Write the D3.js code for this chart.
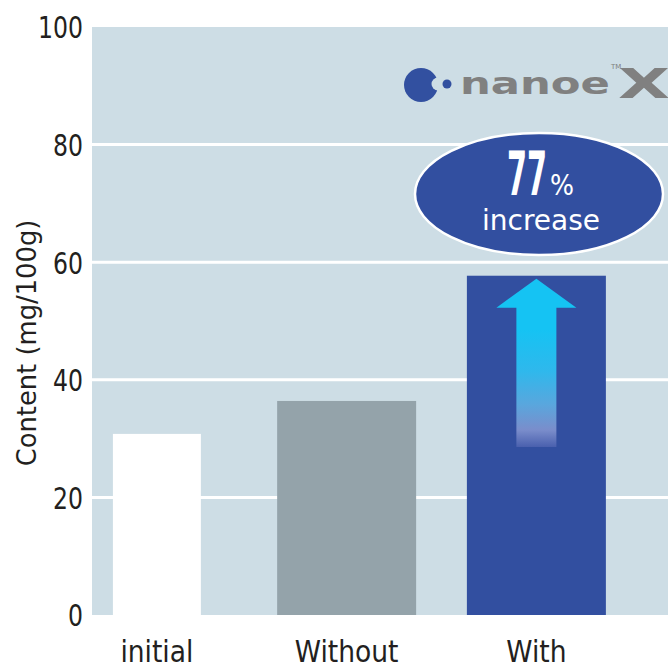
<!DOCTYPE html>
<html><head><meta charset="utf-8">
<script src="https://cdn.jsdelivr.net/npm/d3@7"></script>
<style>html,body{margin:0;padding:0;background:#fff;}svg{display:block;}</style>
</head><body>
<script>
const categories = ["initial", "Without", "With"];
const values = [30.8, 36.4, 57.7];
const yTicks = [0, 20, 40, 60, 80, 100];
const yLabel = "Content (mg/100g)";
const badgeBig = "77";
const badgePct = "%";
const badgeWord = "increase";

const W = 668, H = 664;
const m = {left: 92, right: 0, top: 27, bottom: 49};
const svg = d3.select("body").append("svg").attr("width", W).attr("height", H);
const font = "'DejaVu Sans', sans-serif";
const fontC = "'DejaVu Sans Condensed', 'DejaVu Sans', sans-serif";

const x = d3.scaleBand().domain(categories).range([m.left - 4.6, W - m.right])
  .paddingInner(0.2675).paddingOuter(0.1637).align(0);
const y = d3.scaleLinear().domain([0, 100]).range([H - m.bottom, m.top]);
const barFill = d3.scaleOrdinal().domain(categories).range(["#ffffff", "#94a3aa", "#324fa0"]);
const barScale = d3.scaleOrdinal().domain(categories).range([0.633, 1, 1]);

// plot background
svg.append("rect").attr("x", m.left).attr("y", y(100))
  .attr("width", W - m.right - m.left).attr("height", y(0) - y(100)).attr("fill", "#cddde5");

// gridlines
svg.append("g").selectAll("line").data(yTicks.filter(t => t > 0 && t < 100)).join("line")
  .attr("x1", m.left).attr("x2", W - m.right)
  .attr("y1", d => y(d)).attr("y2", d => y(d))
  .attr("stroke", "#fff").attr("stroke-width", 3);

// bars
svg.append("g").selectAll("rect").data(categories).join("rect")
  .attr("x", d => x(d) + x.bandwidth() * (1 - barScale(d)) / 2)
  .attr("width", d => x.bandwidth() * barScale(d))
  .attr("y", (d, i) => y(values[i]))
  .attr("height", (d, i) => y(0) - y(values[i]))
  .attr("fill", d => barFill(d));

// y axis
const yAxis = d3.axisLeft(y).tickValues(yTicks).tickSize(0).tickPadding(9);
const ga = svg.append("g").attr("transform", `translate(${m.left},0)`).call(yAxis);
ga.select(".domain").remove();
ga.selectAll("text").attr("font-family", fontC).attr("font-size", 30).attr("fill", "#231f20")
  .attr("dy", "0.36em")
  .attr("textLength", d => String(d).length * 15).attr("lengthAdjust", "spacingAndGlyphs");

// y label
svg.append("text").attr("transform", `translate(36,${(y(0) + y(100)) / 2 + 22}) rotate(-90)`)
  .attr("text-anchor", "middle").attr("font-family", font).attr("font-size", 25.8)
  .attr("fill", "#231f20").text(yLabel);

// x labels
svg.append("g").selectAll("text").data(categories).join("text")
  .attr("x", d => x(d) + x.bandwidth() / 2).attr("y", 662)
  .attr("text-anchor", "middle").attr("font-family", fontC).attr("font-size", 29.5)
  .attr("fill", "#231f20").text(d => d);

// arrow in the "With" bar
const defs = svg.append("defs");
const last = categories[categories.length - 1];
const cx = x(last) + x.bandwidth() / 2;
const tipY = y(values[2]) + 3;
const tailY = y(values[0]) + 13;
const g = defs.append("linearGradient").attr("id", "arrowGrad")
  .attr("gradientUnits", "userSpaceOnUse").attr("x1", 0).attr("x2", 0).attr("y1", tipY).attr("y2", tailY);
[[0, "#15c3f3"], [0.3, "#15c3f3"], [0.55, "#2fb8ec"], [0.75, "#5aa6dd"], [0.9, "#7a8dcb"], [1, "#4a60ae"]]
  .forEach(s => g.append("stop").attr("offset", s[0]).attr("stop-color", s[1]));
const headW = 40, shaftW = 20, headH = 29;
const ap = d3.path();
ap.moveTo(cx, tipY);
ap.lineTo(cx + headW, tipY + headH);
ap.lineTo(cx + shaftW, tipY + headH);
ap.lineTo(cx + shaftW, tailY);
ap.lineTo(cx - shaftW, tailY);
ap.lineTo(cx - shaftW, tipY + headH);
ap.lineTo(cx - headW, tipY + headH);
ap.closePath();
svg.append("path").attr("d", ap.toString()).attr("fill", "url(#arrowGrad)");

// badge ellipse
const ecx = 539, ecy = y(71.6);
svg.append("ellipse").attr("cx", ecx).attr("cy", ecy).attr("rx", 124).attr("ry", 61)
  .attr("fill", "#324fa0").attr("stroke", "#fff").attr("stroke-width", 2.5);
svg.append("text").attr("x", ecx - 32).attr("y", ecy + 1)
  .attr("font-family", fontC).attr("font-weight", "bold")
  .attr("font-size", 60).attr("fill", "#fff")
  .attr("textLength", 40).attr("lengthAdjust", "spacingAndGlyphs").text(badgeBig);
svg.append("text").attr("x", ecx + 11).attr("y", ecy + 1)
  .attr("font-family", font).attr("font-size", 29).attr("fill", "#fff")
  .attr("textLength", 24).attr("lengthAdjust", "spacingAndGlyphs").text(badgePct);
svg.append("text").attr("x", ecx + 2).attr("y", ecy + 36).attr("text-anchor", "middle")
  .attr("font-family", font).attr("font-size", 28).attr("fill", "#fff").text(badgeWord);

// nanoe X logo
const logo = svg.append("g");
logo.append("circle").attr("cx", 421).attr("cy", 85).attr("r", 17).attr("fill", "#3250a0");
logo.append("circle").attr("cx", 438).attr("cy", 84).attr("r", 6.5).attr("fill", "#cddde5");
logo.append("circle").attr("cx", 447).attr("cy", 84).attr("r", 4.5).attr("fill", "#3250a0");
logo.append("text").attr("x", 460).attr("y", 94)
  .attr("font-family", font).attr("font-weight", "bold").attr("font-size", 30).attr("fill", "#808080")
  .attr("textLength", 150).attr("lengthAdjust", "spacingAndGlyphs").text("nanoe");
logo.append("text").attr("x", 618).attr("y", 98)
  .attr("font-family", font).attr("font-weight", "bold").attr("font-size", 40).attr("fill", "#808080")
  .attr("textLength", 52).attr("lengthAdjust", "spacingAndGlyphs").text("X");
logo.append("text").attr("x", 611).attr("y", 69)
  .attr("font-family", font).attr("font-size", 7).attr("fill", "#808080").text("TM");
</script>
</body></html>
